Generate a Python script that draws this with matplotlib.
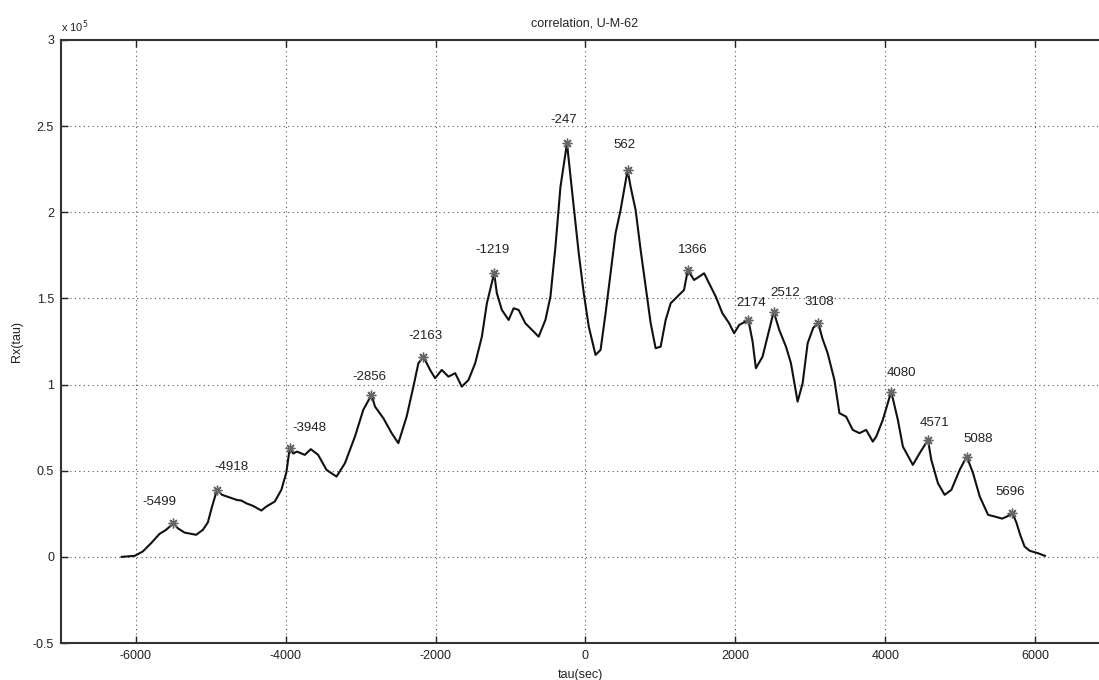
import matplotlib
matplotlib.use("Agg")
import matplotlib.pyplot as plt
import numpy as np
from matplotlib.ticker import FuncFormatter

plt.rcParams["font.family"] = ["Liberation Sans", "DejaVu Sans"]
plt.rcParams["axes.unicode_minus"] = False

# Cross-correlation Rx(tau) in units of 1e5, sampled along the lag axis (seconds)
tau_sec = [
    -6190, -6016, -5909, -5798, -5686, -5597, -5499, -5441, -5351, -5196,
    -5106, -5040, -4985, -4918, -4850, -4750, -4650, -4594, -4527, -4438,
    -4326, -4260, -4147, -4059, -3992, -3948, -3900, -3850, -3746, -3666,
    -3568, -3457, -3323, -3211, -3077, -2966, -2856, -2809, -2698, -2587,
    -2498, -2387, -2297, -2230, -2163, -2074, -2007, -1918, -1829, -1739,
    -1651, -1561, -1472, -1383, -1316, -1219, -1183, -1116, -1026, -959,
    -892, -803, -714, -625, -535, -468, -401, -334, -247, -214,
    -157, -90, -23, 44, 134, 201, 268, 334, 401, 468,
    562, 602, 669, 736, 803, 870, 936, 1003, 1070, 1137,
    1225, 1315, 1366, 1449, 1516, 1583, 1650, 1739, 1827, 1917,
    1984, 2051, 2110, 2174, 2230, 2274, 2363, 2452, 2512, 2586,
    2676, 2742, 2831, 2898, 2965, 3040, 3108, 3160, 3232, 3322,
    3389, 3478, 3567, 3656, 3746, 3834, 3880, 3968, 4080, 4169,
    4236, 4369, 4459, 4571, 4615, 4704, 4793, 4883, 4994, 5088,
    5172, 5262, 5373, 5462, 5560, 5630, 5696, 5750, 5800, 5860,
    5930, 6040, 6131,
]
rx_e5 = [
    0.000, 0.006, 0.031, 0.079, 0.133, 0.157, 0.195, 0.166, 0.141, 0.128,
    0.157, 0.200, 0.290, 0.389, 0.360, 0.345, 0.330, 0.327, 0.311, 0.296,
    0.269, 0.292, 0.321, 0.389, 0.490, 0.630, 0.600, 0.611, 0.592, 0.625,
    0.592, 0.505, 0.466, 0.543, 0.698, 0.853, 0.940, 0.872, 0.805, 0.718,
    0.660, 0.814, 0.988, 1.124, 1.162, 1.085, 1.037, 1.085, 1.046, 1.066,
    0.988, 1.027, 1.124, 1.278, 1.472, 1.646, 1.530, 1.433, 1.375, 1.443,
    1.433, 1.356, 1.317, 1.278, 1.375, 1.510, 1.800, 2.148, 2.400, 2.264,
    2.032, 1.762, 1.530, 1.336, 1.172, 1.201, 1.414, 1.646, 1.878, 2.013,
    2.245, 2.148, 2.013, 1.781, 1.568, 1.356, 1.211, 1.220, 1.375, 1.472,
    1.510, 1.549, 1.665, 1.607, 1.626, 1.646, 1.588, 1.510, 1.414, 1.356,
    1.298, 1.346, 1.360, 1.375, 1.250, 1.095, 1.162, 1.317, 1.423, 1.317,
    1.220, 1.124, 0.901, 1.008, 1.240, 1.330, 1.356, 1.270, 1.182, 1.027,
    0.834, 0.814, 0.737, 0.718, 0.737, 0.669, 0.698, 0.795, 0.959, 0.795,
    0.640, 0.534, 0.601, 0.679, 0.563, 0.427, 0.360, 0.389, 0.505, 0.582,
    0.486, 0.350, 0.244, 0.234, 0.222, 0.235, 0.255, 0.200, 0.130, 0.060,
    0.035, 0.021, 0.006,
]

# Lags of the detected local maxima
peak_tau = [-5499, -4918, -3948, -2856, -2163, -1219, -247, 562, 1366,
            2174, 2512, 3108, 4080, 4571, 5088, 5696]

x_ticks = [-6000, -4000, -2000, 0, 2000, 4000, 6000]
y_ticks = [-0.5, 0, 0.5, 1, 1.5, 2, 2.5, 3]

# label placement relative to each peak marker (pixels)
label_nudge_px = [(-14, 21), (14, 23), (20, 20), (-2, 18), (2, 21), (-2, 23),
                  (-3, 23), (-3, 25), (5, 20), (3, 17), (11, 19), (1, 21),
                  (10, 19), (7, 17), (11, 18), (-2, 21)]

fig = plt.figure(figsize=(10.99, 6.8), dpi=100)
ax = fig.add_axes([0.0555, 0.0544, 0.9545, 0.8868])

ax.plot(tau_sec, rx_e5, color="#111111", lw=1.5, zorder=3)

peak_val = np.interp(peak_tau, tau_sec, rx_e5)
ax.plot(peak_tau, peak_val, linestyle="none", marker=(8, 2, 0), ms=7,
        color="#666666", mew=1.0, zorder=4)
for t, v, (dx, dy) in zip(peak_tau, peak_val, label_nudge_px):
    ax.annotate(str(t), (t, v), xytext=(dx, dy), textcoords="offset pixels",
                ha="center", va="center", fontsize=9.5, color="#222222")

ax.set_xlim(-7000, 7000)
ax.set_ylim(-0.5, 3)
ax.set_xticks(x_ticks)
ax.set_yticks(y_ticks)
ax.yaxis.set_major_formatter(FuncFormatter(lambda v, p: f"{v:g}"))
ax.xaxis.set_major_formatter(FuncFormatter(lambda v, p: f"{v:g}"))

ax.grid(True, linestyle=(0, (1, 3)), color="#555555", lw=0.8)
ax.tick_params(direction="in", length=5, width=1, top=True, right=False,
               labelsize=9, colors="#222222", pad=5)
for s in ax.spines.values():
    s.set_linewidth(1.5)
    s.set_color("#333333")
ax.spines["right"].set_visible(False)

ax.text(0.0, 1.008, "x 10$^5$", transform=ax.transAxes,
        ha="left", va="bottom", fontsize=8, color="#222222")
ax.text(0.4995, 1.028, "correlation, U-M-62", transform=ax.transAxes,
        ha="center", va="center", fontsize=9, color="#222222")
ax.set_xlabel("tau(sec)", fontsize=9, color="#222222")
ax.xaxis.set_label_coords(0.495, -0.043)
ax.set_ylabel("Rx(tau)", fontsize=9, color="#222222")
ax.yaxis.set_label_coords(-0.036, 0.5)

fig.savefig("out.png", dpi=100)
